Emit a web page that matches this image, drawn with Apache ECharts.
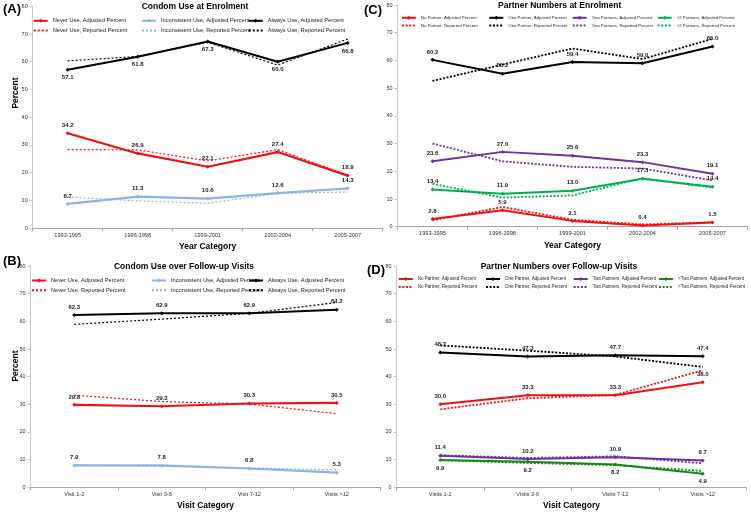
<!DOCTYPE html>
<html>
<head>
<meta charset="utf-8">
<script src="https://cdn.jsdelivr.net/npm/echarts@6/dist/echarts.min.js"></script>
<style>
html,body{margin:0;padding:0;background:#fff;}
#chart{width:751px;height:514px;}
</style>
</head>
<body>
<div id="chart"></div>
<script>
// ---------- data ----------
const yearCats = ['1993-1995', '1996-1998', '1999-2001', '2002-2004', '2005-2007'];
const visitCatsB = ['Visit 1-2', 'Visit 3-6', 'Visit 7-12', 'Visits >12'];
const visitCatsD = ['Visits 1-2', 'Visits 3-6', 'Visits 7-12', 'Visits >12'];
const yMin = 0, yMax = 80, yStep = 10;

// (A) Condom use at enrolment
const neverAdjA  = [34.2, 26.9, 22.1, 27.4, 18.9];
const neverRepA  = [28.3, 28.2, 24.2, 28.3, 19.0];
const inconAdjA  = [8.7, 11.3, 10.6, 12.6, 14.3];
const inconRepA  = [11.2, 9.8, 8.9, 12.5, 13.0];
const alwaysAdjA = [57.1, 61.8, 67.3, 60.0, 66.8];
const alwaysRepA = [60.3, 61.9, 67.0, 58.8, 68.2];

// (B) Condom use over follow-up visits
const neverAdjB  = [29.8, 29.3, 30.3, 30.5];
const neverRepB  = [33.3, 31.0, 30.1, 26.6];
const inconAdjB  = [7.9, 7.8, 6.8, 5.3];
const inconRepB  = [8.0, 8.1, 7.0, 6.3];
const alwaysAdjB = [62.3, 62.9, 62.9, 64.2];
const alwaysRepB = [58.9, 60.8, 62.9, 66.8];

// (C) Partner numbers at enrolment
const noAdjC  = [2.8, 5.9, 2.1, 0.4, 1.5];
const noRepC  = [2.3, 7.1, 2.5, 0.8, 1.6];
const oneAdjC = [60.2, 55.2, 59.4, 59.0, 65.0];
const oneRepC = [52.6, 58.5, 64.3, 60.5, 67.8];
const twoAdjC = [23.6, 27.0, 25.6, 23.3, 19.1];
const twoRepC = [30.0, 23.6, 21.6, 21.0, 16.7];
const gtAdjC  = [13.4, 11.9, 13.0, 17.3, 14.4];
const gtRepC  = [15.5, 10.5, 11.3, 17.5, 14.1];

// (D) Partner numbers over follow-up visits
const noAdjD  = [30.0, 33.3, 33.3, 38.0];
const noRepD  = [28.2, 32.2, 33.4, 42.3];
const oneAdjD = [48.7, 47.3, 47.7, 47.4];
const oneRepD = [51.3, 49.4, 47.3, 43.5];
const twoAdjD = [11.4, 10.2, 10.9, 9.7];
const twoRepD = [11.6, 10.6, 11.2, 8.7];
const gtAdjD  = [9.9, 9.2, 8.2, 4.9];
const gtRepD  = [9.8, 8.8, 8.0, 5.9];

// ---------- styling ----------
const FONT = 'Liberation Sans, Arial, sans-serif';
const RED = '#f01010', BLUE = '#8db4e2', BLACK = '#000000', PURPLE = '#7030a0', GREEN_C = '#00b050', GREEN_D = '#138a13';

// grids: 0=A, 1=C, 2=B, 3=D
const grids = [
  {left: 32.7, top: 6.3, width: 350, height: 221.7},
  {left: 397.5, top: 5, width: 350, height: 221.7},
  {left: 30.5, top: 266, width: 350, height: 221.3},
  {left: 396.5, top: 266, width: 350, height: 221.3}
];
const xCats = [yearCats, yearCats, visitCatsB, visitCatsD];
const xNames = ['Year Category', 'Year Category', 'Visit Category', 'Visit Category'];

const xAxes = grids.map((g, i) => ({
  type: 'category', gridIndex: i, data: xCats[i], boundaryGap: true,
  axisLine: {lineStyle: {color: '#a6a6a6', width: 1}},
  axisTick: {show: true, length: 3, lineStyle: {color: '#a6a6a6'}},
  axisLabel: {fontSize: 5.6, color: '#333', margin: 4, fontFamily: FONT},
  splitLine: {show: false},
  name: xNames[i], nameLocation: 'middle', nameGap: 14,
  nameTextStyle: {fontSize: 8.5, fontWeight: 'bold', color: '#000', fontFamily: FONT}
}));
const yAxes = grids.map((g, i) => ({
  type: 'value', gridIndex: i, min: yMin, max: yMax, interval: yStep,
  axisLine: {show: true, lineStyle: {color: '#c8c8c8'}},
  axisTick: {show: true, length: 3, lineStyle: {color: '#c8c8c8'}},
  axisLabel: {fontSize: 5.5, color: '#333', margin: 5, fontFamily: FONT},
  splitLine: {show: false}
}));

function adj(name, data, color, gi, pos, width) {
  return {
    type: 'line', name: name, data: data, xAxisIndex: gi, yAxisIndex: gi,
    symbol: 'diamond', symbolSize: 4, showSymbol: true,
    lineStyle: {color: color, width: width || 2},
    itemStyle: {color: color},
    label: {show: true, position: pos || 'top', distance: 3, fontSize: 6, fontWeight: 'bold',
            color: '#222', fontFamily: FONT, formatter: p => Number(p.value).toFixed(1)},
    z: 3, animation: false
  };
}
function rep(name, data, color, gi, width, dash) {
  return {
    type: 'line', name: name, data: data, xAxisIndex: gi, yAxisIndex: gi,
    symbol: 'none', showSymbol: false,
    lineStyle: {color: color, width: width, type: dash},
    itemStyle: {color: color},
    z: 2, animation: false
  };
}
const thinDot = [2, 2], thickDot = [2, 1.6];

const series = [
  // A
  adj('Never Use, Adjusted Percent', neverAdjA, RED, 0, 'top', 2.2),
  rep('Never Use, Reported Percent', neverRepA, RED, 0, 1.2, thinDot),
  adj('Inconsistent Use, Adjusted Percent', inconAdjA, BLUE, 0, 'top', 2.2),
  rep('Inconsistent Use, Reported Percent', inconRepA, BLUE, 0, 1.2, thinDot),
  adj('Always Use, Adjusted Percent', alwaysAdjA, BLACK, 0, 'bottom', 2),
  rep('Always Use, Reported Percent', alwaysRepA, BLACK, 0, 1.2, thinDot),
  // C
  adj('No Partner, Adjusted Percent', noAdjC, RED, 1, 'top', 2),
  rep('No Partner, Reported Percent', noRepC, RED, 1, 1.8, thickDot),
  adj('One Partner, Adjusted Percent', oneAdjC, BLACK, 1, 'top', 2),
  rep('One Partner, Reported Percent', oneRepC, BLACK, 1, 1.8, thickDot),
  adj('Two Partners, Adjusted Percent', twoAdjC, PURPLE, 1, 'top', 2),
  rep('Two Partners, Reported Percent', twoRepC, PURPLE, 1, 1.8, thickDot),
  adj('>2 Partners, Adjusted Percent', gtAdjC, GREEN_C, 1, 'top', 2),
  rep('>2 Partners, Reported Percent', gtRepC, GREEN_C, 1, 1.8, thickDot),
  // B
  adj('Never Use, Adjusted Percent', neverAdjB, RED, 2, 'top', 2.2),
  rep('Never Use, Reported Percent', neverRepB, RED, 2, 1.2, thinDot),
  adj('Inconsistent Use, Adjusted Percent', inconAdjB, BLUE, 2, 'top', 2.2),
  rep('Inconsistent Use, Reported Percent', inconRepB, BLUE, 2, 1.2, thinDot),
  adj('Always Use, Adjusted Percent', alwaysAdjB, BLACK, 2, 'top', 2),
  rep('Always Use, Reported Percent', alwaysRepB, BLACK, 2, 1.2, thinDot),
  // D
  adj('No Partner, Adjusted Percent', noAdjD, RED, 3, 'top', 2),
  rep('No Partner, Reported Percent', noRepD, RED, 3, 1.8, thickDot),
  adj('One Partner, Adjusted Percent', oneAdjD, BLACK, 3, 'top', 2),
  rep('One Partner, Reported Percent', oneRepD, BLACK, 3, 1.8, thickDot),
  adj('Two Partners, Adjusted Percent', twoAdjD, PURPLE, 3, 'top', 2),
  rep('Two Partners, Reported Percent', twoRepD, PURPLE, 3, 1.8, thickDot),
  adj('>Two Partners, Adjusted Percent', gtAdjD, GREEN_D, 3, 'bottom', 2),
  rep('>Two Partners, Reported Percent', gtRepD, GREEN_D, 3, 1.8, thickDot)
];

// legends: one per item, positioned like the reference
function leg(name, textLeft, yCenter, fs) {
  const iw = 14;
  const reported = name.indexOf('Reported') >= 0;
  return {
    data: [name], left: textLeft - 5 - iw, top: yCenter - 2.5, padding: 0,
    itemWidth: iw, itemHeight: 5, itemGap: 0, selectedMode: false,
    itemStyle: reported ? {opacity: 0} : {},
    textStyle: {fontSize: fs, color: '#222', fontFamily: FONT}
  };
}
const legends = [
  // A
  leg('Never Use, Adjusted Percent', 51.7, 20.3, 5.7),
  leg('Inconsistent Use, Adjusted Percent', 160, 20.3, 5.7),
  leg('Always Use, Adjusted Percent', 266.7, 20.3, 5.7),
  leg('Never Use, Reported Percent', 51.7, 30, 5.7),
  leg('Inconsistent Use, Reported Percent', 160, 30, 5.7),
  leg('Always Use, Reported Percent', 266.7, 30, 5.7),
  // B
  leg('Never Use, Adjusted Percent', 50, 280, 5.7),
  leg('Inconsistent Use, Adjusted Percent', 170, 280, 5.7),
  leg('Always Use, Adjusted Percent', 267, 280, 5.7),
  leg('Never Use, Reported Percent', 50, 289.7, 5.7),
  leg('Inconsistent Use, Reported Percent', 170, 289.7, 5.7),
  leg('Always Use, Reported Percent', 267, 289.7, 5.7),
  // C
  leg('No Partner, Adjusted Percent', 420, 18.3, 4.3),
  leg('One Partner, Adjusted Percent', 507.3, 18.3, 4.3),
  leg('Two Partners, Adjusted Percent', 590.7, 18.3, 4.3),
  leg('>2 Partners, Adjusted Percent', 675.7, 18.3, 4.3),
  leg('No Partner, Reported Percent', 420, 26, 4.3),
  leg('One Partner, Reported Percent', 507.3, 26, 4.3),
  leg('Two Partners, Reported Percent', 590.7, 26, 4.3),
  leg('>2 Partners, Reported Percent', 675.7, 26, 4.3),
  // D
  leg('No Partner, Adjusted Percent', 416.7, 279, 4.5),
  leg('One Partner, Adjusted Percent', 504, 279, 4.5),
  leg('Two Partners, Adjusted Percent', 591.7, 279, 4.5),
  leg('>Two Partners, Adjusted Percent', 677, 279, 4.5),
  leg('No Partner, Reported Percent', 416.7, 287, 4.5),
  leg('One Partner, Reported Percent', 504, 287, 4.5),
  leg('Two Partners, Reported Percent', 591.7, 287, 4.5),
  leg('>Two Partners, Reported Percent', 677, 287, 4.5)
];

function txt(text, x, y, fs, bold, rot) {
  return {
    type: 'text', x: x, y: y, rotation: rot || 0, silent: true,
    style: {text: text, fontSize: fs, fontWeight: bold ? 'bold' : 'normal', fontFamily: FONT,
            fill: '#000', align: 'center', verticalAlign: 'middle'}
  };
}
const graphics = [
  txt('Condom Use at Enrolment', 195, 6.7, 8.5, true),
  txt('Partner Numbers at Enrolment', 559.7, 5.5, 8.5, true),
  txt('Condom Use over Follow-up Visits', 184, 266.7, 8.5, true),
  txt('Partner Numbers over Follow-up Visits', 559, 266.7, 8.5, true),
  txt('(A)', 12, 9, 13, true),
  txt('(C)', 373, 10, 13, true),
  txt('(B)', 12, 261, 13, true),
  txt('(D)', 376, 270, 13, true),
  txt('Percent', 16, 93, 8.5, true, Math.PI / 2),
  txt('Percent', 16, 366, 8.5, true, Math.PI / 2)
];

const chart = echarts.init(document.getElementById('chart'), null, {renderer: 'canvas'});
chart.setOption({
  backgroundColor: '#ffffff',
  animation: false,
  textStyle: {fontFamily: FONT},
  grid: grids,
  xAxis: xAxes,
  yAxis: yAxes,
  legend: legends,
  series: series,
  graphic: graphics
});
</script>
</body>
</html>
